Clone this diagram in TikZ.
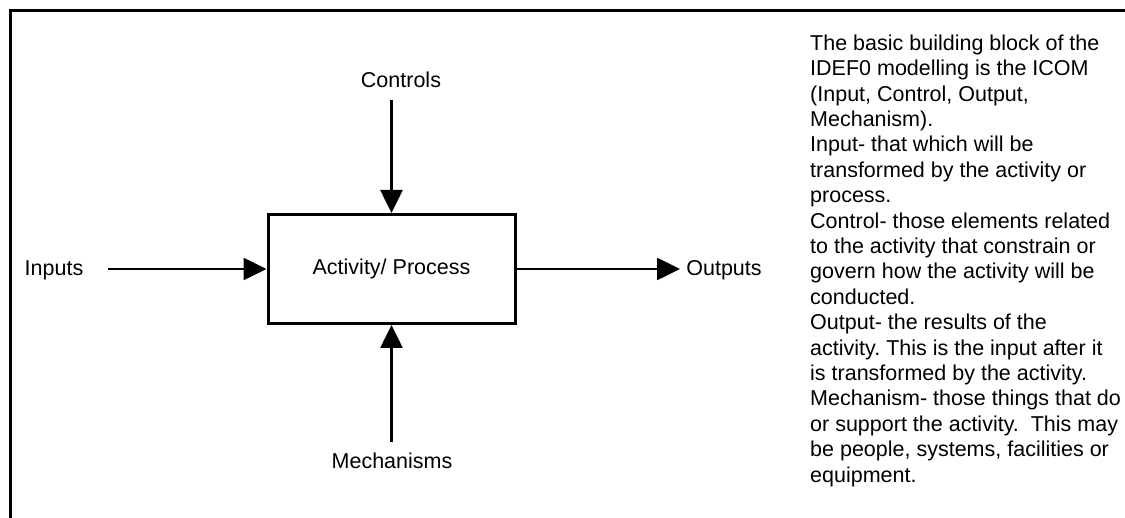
\documentclass[tikz,border=0pt]{standalone}
\usepackage{fontspec}
\setmainfont{Liberation Sans}
\usetikzlibrary{arrows.meta}
\frenchspacing
\begin{document}
\begin{tikzpicture}[x=1pt,y=-1pt,
  lbl/.style={inner sep=0pt,font=\fontsize{21.5}{24}\selectfont},
  actbox/.style={draw,line width=3pt,minimum width=247pt,minimum height=109pt,
    inner sep=0pt,font=\fontsize{21.5}{24}\selectfont},
  flow/.style={line width=2.6pt,-{Triangle[length=23pt,width=22pt]}},
  note/.style={inner sep=0pt,anchor=north west,align=left,
    font=\fontsize{21.5}{25.4}\selectfont}]
  \useasboundingbox (0,0) rectangle (1125,518);
  % outer frame (top and left edges)
  \draw[line width=3pt] (10.5,518) -- (10.5,10.5) -- (1125,10.5);

  % activity box and its ICOM arrows
  \node[actbox] (act) at (391.5,269) {\raisebox{-2pt}{Activity/ Process}};

  \node[lbl] (inputs) at (54,270) {Inputs};
  \coordinate (inStart) at (108,269);
  \draw[flow] (inStart) -- (act.west);

  \node[lbl] (controls) at (401,80) {Controls};
  \coordinate (ctlStart) at (391.5,100);
  \draw[flow] (ctlStart) -- (act.north);

  \node[lbl] (mechs) at (392,461) {Mechanisms};
  \coordinate (mechStart) at (391.5,442);
  \draw[flow] (mechStart) -- (act.south);

  \node[lbl] (outputs) at (724,270) {Outputs};
  \coordinate (outEnd) at (680,269);
  \draw[flow] (act.east) -- (outEnd);

  % explanatory text
  \node[note] (icom) at (810,34.5) {The basic building block of the\\
IDEF0 modelling is the ICOM\\
(Input, Control, Output,\\
Mechanism).\\
Input- that which will be\\
transformed by the activity or\\
process.\\
Control- those elements related\\
to the activity that constrain or\\
govern how the activity will be\\
conducted.\\
Output- the results of the\\
activity. This is the input after it\\
is transformed by the activity.\\
Mechanism- those things that do\\
or support the activity.\ \ This may\\
be people, systems, facilities or\\
equipment.};
\end{tikzpicture}
\end{document}
